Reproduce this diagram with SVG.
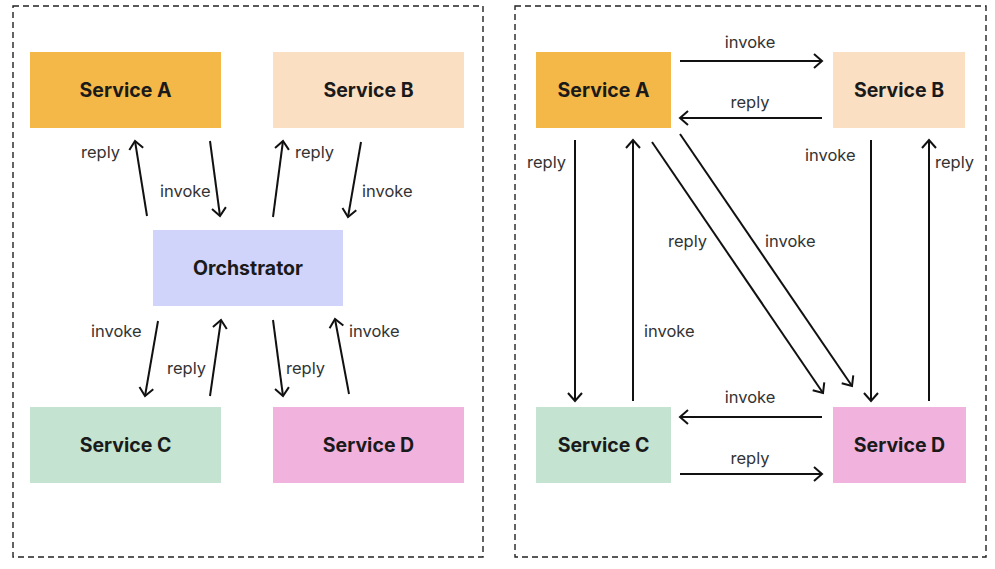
<svg xmlns="http://www.w3.org/2000/svg" width="995" height="569" viewBox="0 0 995 569">
<style>
.frame{fill:none;stroke:#222;stroke-width:1.4;stroke-dasharray:6 4}
.nt{font-family:Inter,"Noto Sans","Liberation Sans",sans-serif;font-weight:700;font-size:19.5px;fill:#1a1a1a;text-anchor:middle}
.lb{font-family:Inter,"Noto Sans","Liberation Sans",sans-serif;font-size:16.5px;fill:#333}
.c{stroke:#111;stroke-width:2;fill:none;marker-end:url(#ah)}
</style>
<defs>
<marker id="ah" markerUnits="userSpaceOnUse" markerWidth="20" markerHeight="20" viewBox="0 0 20 20" refX="10" refY="10" orient="auto">
<path d="M2,3 L10,10 L2,17" fill="none" stroke="#111" stroke-width="2"/>
</marker>
</defs>
<rect width="995" height="569" fill="#fff"/>
<rect class="frame" x="13" y="6" width="470" height="551"/>
<rect class="frame" x="515" y="6" width="471" height="551"/>

<g id="L-serviceA"><rect x="30" y="52" width="191" height="76" fill="#F3B847"/><text class="nt" x="125.5" y="97">Service A</text></g>
<g id="L-serviceB"><rect x="273" y="52" width="191" height="76" fill="#FADFC3"/><text class="nt" x="368.5" y="97">Service B</text></g>
<g id="L-orchestrator"><rect x="153" y="230" width="190" height="76" fill="#D1D4FA"/><text class="nt" x="248" y="275">Orchstrator</text></g>
<g id="L-serviceC"><rect x="30" y="407" width="191" height="76" fill="#C4E3D0"/><text class="nt" x="125.5" y="452">Service C</text></g>
<g id="L-serviceD"><rect x="273" y="407" width="191" height="76" fill="#F1B3DE"/><text class="nt" x="368.5" y="452">Service D</text></g>

<g id="R-serviceA"><rect x="536" y="52" width="135" height="76" fill="#F3B847"/><text class="nt" x="603.5" y="97">Service A</text></g>
<g id="R-serviceB"><rect x="833" y="52" width="132" height="76" fill="#FADFC3"/><text class="nt" x="899" y="97">Service B</text></g>
<g id="R-serviceC"><rect x="536" y="407" width="135" height="76" fill="#C4E3D0"/><text class="nt" x="603.5" y="452">Service C</text></g>
<g id="R-serviceD"><rect x="833" y="407" width="133" height="76" fill="#F1B3DE"/><text class="nt" x="899.5" y="452">Service D</text></g>

<g id="connectors">
<line class="c" x1="147" y1="216" x2="135" y2="141"/>
<line class="c" x1="210" y1="141" x2="220" y2="216"/>
<line class="c" x1="273" y1="217" x2="283" y2="141"/>
<line class="c" x1="361" y1="142" x2="348" y2="217"/>
<line class="c" x1="158" y1="321" x2="145" y2="396"/>
<line class="c" x1="210" y1="396" x2="221" y2="320"/>
<line class="c" x1="273" y1="320" x2="283" y2="396"/>
<line class="c" x1="349" y1="394" x2="335" y2="319"/>

<line class="c" x1="680" y1="61" x2="822" y2="61"/>
<line class="c" x1="822" y1="118" x2="680" y2="118"/>
<line class="c" x1="575" y1="140" x2="575" y2="401"/>
<line class="c" x1="633" y1="401" x2="633" y2="140"/>
<line class="c" x1="652" y1="142" x2="823" y2="393"/>
<line class="c" x1="680" y1="134" x2="852" y2="386"/>
<line class="c" x1="871" y1="140" x2="871" y2="401"/>
<line class="c" x1="929" y1="401" x2="929" y2="140"/>
<line class="c" x1="822" y1="417" x2="680" y2="417"/>
<line class="c" x1="680" y1="474" x2="822" y2="474"/>
</g>

<g id="labels">
<text class="lb" x="81" y="158">reply</text>
<text class="lb" x="160" y="197">invoke</text>
<text class="lb" x="295" y="158">reply</text>
<text class="lb" x="362" y="197">invoke</text>
<text class="lb" x="91" y="337">invoke</text>
<text class="lb" x="167" y="374">reply</text>
<text class="lb" x="286" y="374">reply</text>
<text class="lb" x="349" y="337">invoke</text>

<text class="lb" x="750" y="48" text-anchor="middle">invoke</text>
<text class="lb" x="750" y="108" text-anchor="middle">reply</text>
<text class="lb" x="527" y="168">reply</text>
<text class="lb" x="644" y="337">invoke</text>
<text class="lb" x="668" y="247">reply</text>
<text class="lb" x="765" y="247">invoke</text>
<text class="lb" x="805" y="161">invoke</text>
<text class="lb" x="935" y="168">reply</text>
<text class="lb" x="750" y="403" text-anchor="middle">invoke</text>
<text class="lb" x="750" y="464" text-anchor="middle">reply</text>
</g>
</svg>
